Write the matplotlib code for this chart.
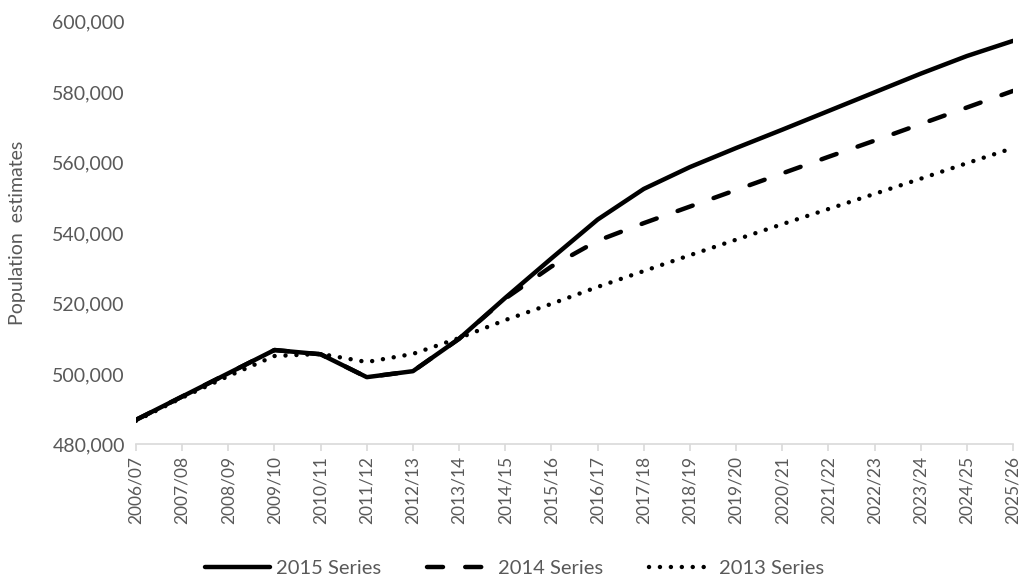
import matplotlib as mpl
mpl.use("Agg")
import matplotlib.pyplot as plt
from matplotlib.ticker import FuncFormatter
import numpy as np

years = ["2006/07", "2007/08", "2008/09", "2009/10", "2010/11", "2011/12", "2012/13",
         "2013/14", "2014/15", "2015/16", "2016/17", "2017/18", "2018/19", "2019/20",
         "2020/21", "2021/22", "2022/23", "2023/24", "2024/25", "2025/26"]
# population estimates by projection series
series_2015 = [487000, 493600, 500200, 506800, 505600, 499100, 500800, 510000, 521600, 532800,
               543800, 552500, 558700, 564100, 569300, 574600, 579900, 585200, 590200, 594500]
series_2014 = [487000, 493600, 500200, 506800, 505600, 499100, 500800, 510000, 521400, 530500,
               537800, 542800, 547500, 552200, 556900, 561600, 566200, 570900, 575600, 580300]
series_2013 = [486700, 493300, 499400, 505100, 505700, 503400, 505700, 510200, 515300, 519900,
               524700, 529200, 533700, 538100, 542500, 546800, 551100, 555400, 559800, 564100]

grey = "#595959"
plt.rcParams['font.family'] = ['Lato', 'DejaVu Sans']

fig = plt.figure(figsize=(10.24, 5.79), dpi=100)
ax = fig.add_axes([0.1328, 0.2323, 0.8565, 0.7306])

x = np.arange(len(years))
lw = 3.2
ax.plot(x, series_2015, color="black", lw=lw, solid_capstyle="round", label="2015 Series")
ax.plot(x, series_2014, color="black", lw=lw, linestyle=(0, (3.6, 5.0)),
        dash_capstyle="round", label="2014 Series")
ax.plot(x, series_2013, color="black", lw=lw, linestyle=(0, (0.01, 2.45)),
        dash_capstyle="round", label="2013 Series")

ax.set_xlim(0, len(years) - 1)
ax.set_ylim(480000, 600000)
ax.set_yticks(np.arange(480000, 600001, 20000))
ax.yaxis.set_major_formatter(FuncFormatter(lambda v, p: f"{int(v):,}"))
ax.set_xticks(x)
ax.set_xticklabels(years, rotation=90)

for s in ["top", "right", "left"]:
    ax.spines[s].set_visible(False)
ax.spines["bottom"].set_color("#d9d9d9")
ax.spines["bottom"].set_linewidth(1.2)
ax.tick_params(axis="x", colors="#d9d9d9", length=5, width=1.2, labelcolor=grey, labelsize=12.5)
ax.tick_params(axis="y", length=0, labelcolor=grey, labelsize=14, pad=8)

ax.set_ylabel("Population  estimates", color=grey, fontsize=14)
ax.yaxis.set_label_coords(-0.1254, 0.5)

ax.legend(loc="center", bbox_to_anchor=(0.432, -0.292), ncol=3, frameon=False,
          fontsize=14.5, labelcolor=grey, handlelength=3.2, columnspacing=2.3, handletextpad=0.3)

fig.savefig("out.png", dpi=100)
